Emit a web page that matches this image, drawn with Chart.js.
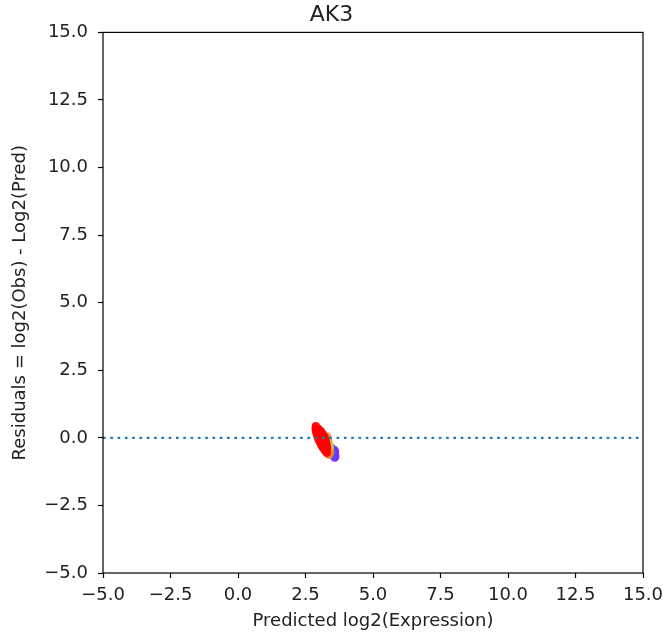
<!DOCTYPE html>
<html>
<head>
<meta charset="utf-8">
<title>AK3 residuals</title>
<script src="https://cdn.jsdelivr.net/npm/chart.js@4.4.1/dist/chart.umd.min.js"></script>
<style>
  body { margin: 0; background: #fff; }
  #wrap { width: 663px; height: 636px; }
</style>
</head>
<body>
<div id="wrap"><canvas id="residChart"></canvas></div>
<script>
//Data
const geneName = 'AK3';
const axisTicks = [-5, -2.5, 0, 2.5, 5, 7.5, 10, 12.5, 15];

const redX = [2.88, 2.87, 2.97, 2.88, 2.98, 3.07, 2.91, 3.03, 3.14, 2.94, 3.07, 3.20, 2.98, 3.11, 3.24, 3.03, 3.15, 3.27, 3.08, 3.19, 3.29, 3.14, 3.23, 3.31, 3.21, 3.28, 3.29];
const redY = [0.44, 0.35, 0.35, 0.25, 0.25, 0.25, 0.15, 0.15, 0.15, 0.04, 0.04, 0.04, -0.06, -0.06, -0.06, -0.16, -0.16, -0.16, -0.27, -0.27, -0.27, -0.37, -0.37, -0.37, -0.47, -0.47, -0.56];

const orangeX = [3.30, 3.34, 3.38, 3.41, 3.42, 3.37];
const orangeY = [0.05, -0.10, -0.25, -0.40, -0.54, -0.63];

const yellowX = [3.36, 3.40];
const yellowY = [-0.18, -0.35];

const blueX = [3.47, 3.50, 3.52];
const blueY = [-0.38, -0.52, -0.64];

const purpleX = [3.56, 3.59, 3.61, 3.58, 3.54, 3.60];
const purpleY = [-0.44, -0.56, -0.68, -0.74, -0.62, -0.50];

const zeroLineX = [-5, 15];

//Helpers
const toPoints = (xs, ys) => xs.map((x, i) => ({x: x, y: ys[i]}));
const fmtTick = (v) => v.toFixed(1).replace('-', '\u2212');

const textColor = '#222';
const fontFamily = '"DejaVu Sans", sans-serif';

const dotSet = (label, xs, ys, color) => ({
  type: 'scatter',
  label: label,
  data: toPoints(xs, ys),
  backgroundColor: color,
  borderWidth: 0,
  pointRadius: 4,
  pointHoverRadius: 4
});

//Box round the plot area
const frame = {
  id: 'frame',
  afterDatasetsDraw(chart) {
    const {ctx, chartArea: a} = chart;
    ctx.save();
    ctx.strokeStyle = '#000';
    ctx.lineWidth = 1.2;
    ctx.strokeRect(a.left, a.top, a.right - a.left, a.bottom - a.top);
    ctx.restore();
  }
};

const axisOptions = (title, fixSize) => ({
  type: 'linear',
  min: -5,
  max: 15,
  afterBuildTicks: (scale) => {
    scale.ticks = axisTicks.map((v) => ({value: v}));
  },
  afterFit: fixSize,
  grid: {
    drawOnChartArea: false,
    drawTicks: true,
    tickLength: 5,
    tickColor: '#000',
    tickWidth: 1.2
  },
  border: { display: false },
  ticks: {
    color: textColor,
    font: { family: fontFamily, size: 18 },
    callback: (v) => fmtTick(v),
    autoSkip: false,
    maxRotation: 0
  },
  title: {
    display: true,
    text: title,
    color: textColor,
    font: { family: fontFamily, size: 18 }
  }
});

// fixed axis boxes so the plot area lands at 103..643 x 32..573
const xAxis = axisOptions('Predicted log2(Expression)', (scale) => {
  scale.height = 63;
  scale.paddingLeft = 0;
  scale.paddingRight = 20;
});
xAxis.position = 'bottom';
xAxis.ticks.padding = 7;
xAxis.title.padding = { top: 0, bottom: 4 };

const yAxis = axisOptions('Residuals = log2(Obs) - Log2(Pred)', (scale) => { scale.width = 103; });
yAxis.position = 'left';
yAxis.ticks.padding = 10;
yAxis.title.padding = { top: 10, bottom: 0 };

const residChart = new Chart(document.getElementById('residChart'), {
  type: 'scatter',
  data: {
    datasets: [
      {
        type: 'line',
        label: 'zero',
        data: zeroLineX.map((x) => ({x: x, y: 0})),
        borderColor: '#1f77b4',
        borderWidth: 2.4,
        borderDash: [2.6, 4.7],
        pointRadius: 0,
        fill: false
      },
      dotSet('red', redX, redY, 'rgba(255,0,0,0.95)'),
      dotSet('yellow', yellowX, yellowY, 'rgba(215,200,70,0.9)'),
      dotSet('orange', orangeX, orangeY, 'rgba(255,130,30,0.9)'),
      dotSet('blue', blueX, blueY, 'rgba(70,80,255,0.9)'),
      dotSet('purple', purpleX, purpleY, 'rgba(128,40,255,0.95)')
    ]
  },
  options: {
    responsive: true,
    maintainAspectRatio: false,
    animation: false,
    layout: { padding: 0 },
    plugins: {
      legend: { display: false },
      tooltip: { enabled: false },
      title: {
        display: true,
        text: geneName,
        color: textColor,
        font: { family: fontFamily, size: 22, weight: 'normal' },
        padding: { top: 2, bottom: 4 }
      }
    },
    scales: { x: xAxis, y: yAxis }
  },
  plugins: [frame]
});
</script>
</body>
</html>
